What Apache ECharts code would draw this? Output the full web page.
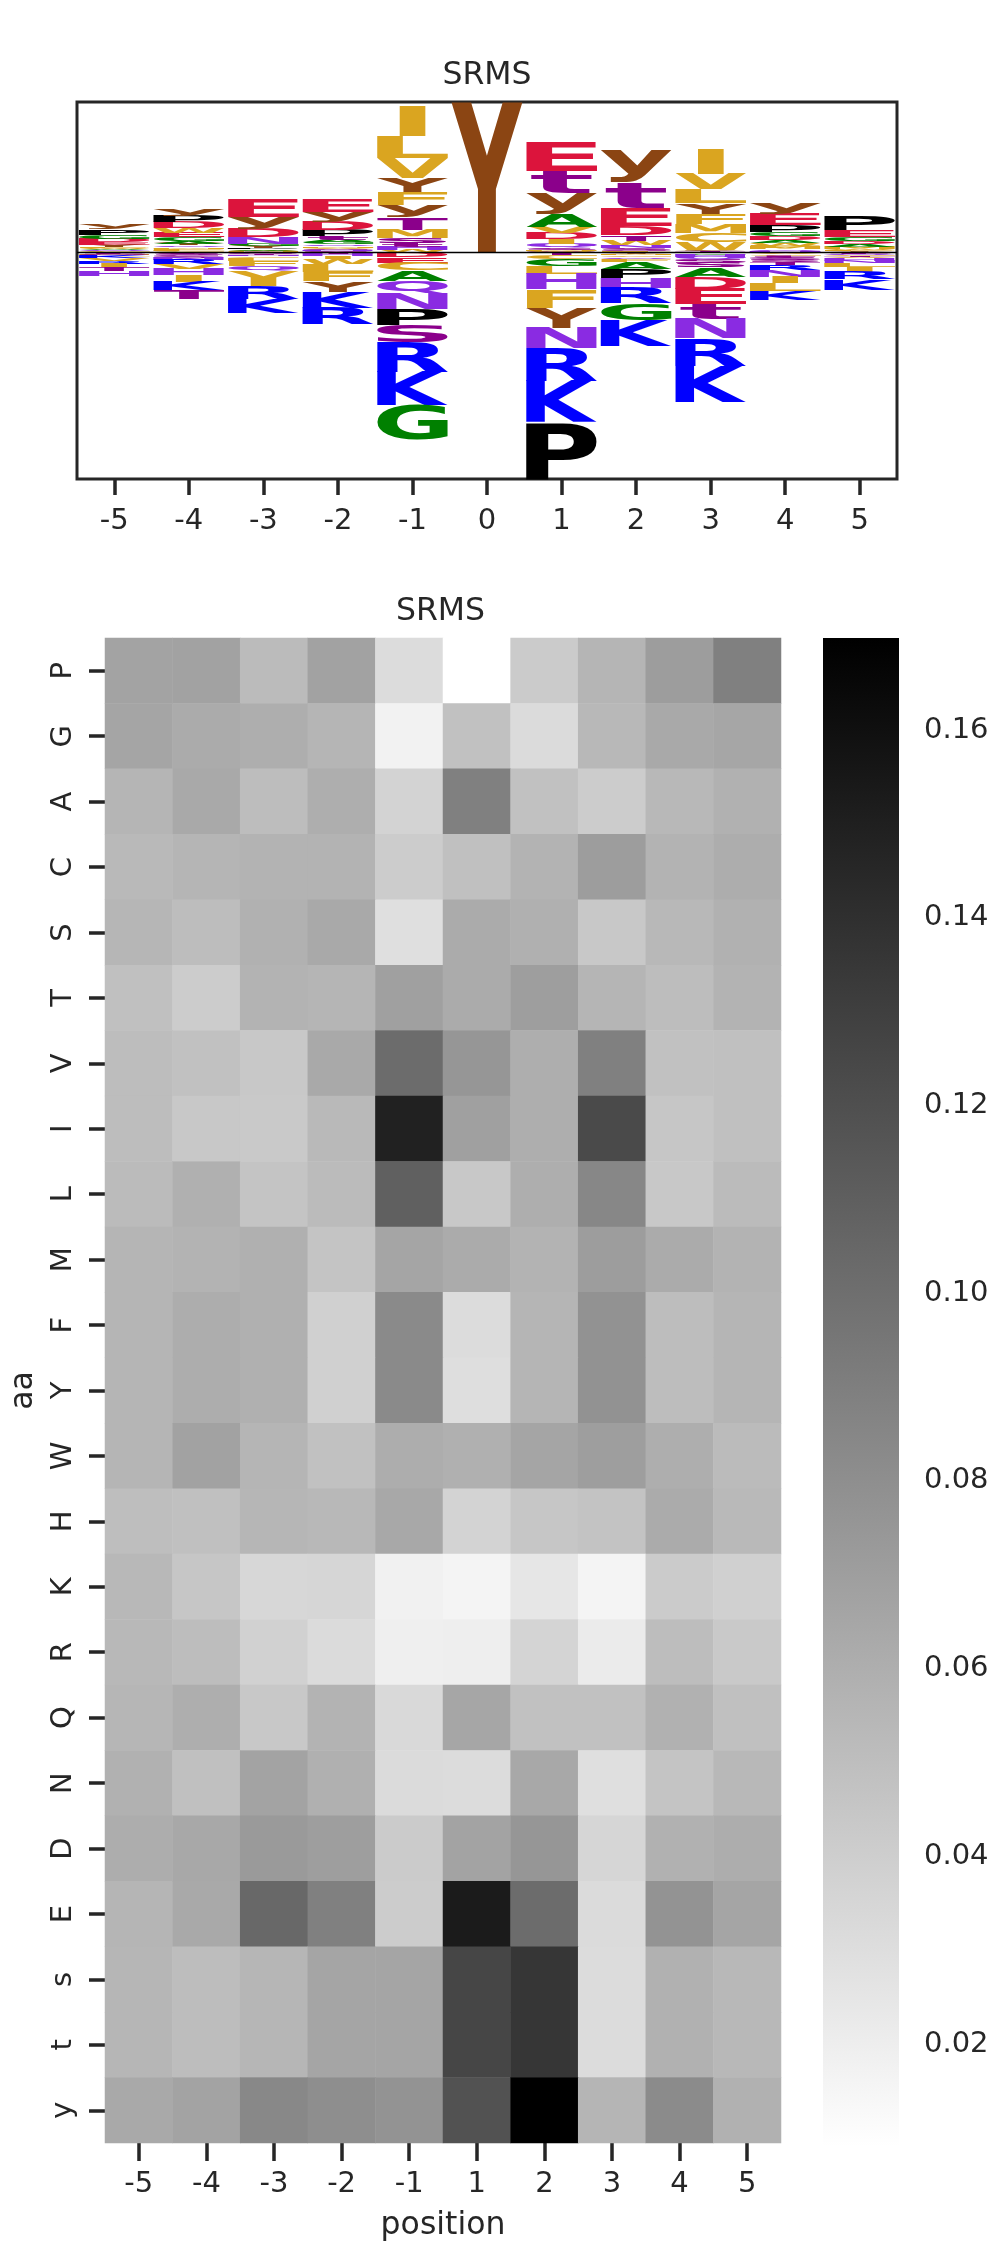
<!DOCTYPE html>
<html>
<head>
<meta charset="utf-8">
<script src="https://cdn.jsdelivr.net/npm/echarts@6/dist/echarts.min.js"></script>
<style>
html, body { margin: 0; padding: 0; background: #fff; }
#main { width: 993px; height: 2247px; }
</style>
</head>
<body>
<div id="main"></div>
<script>
// ---- logo: positions and letter heights (positive = above, negative = below) ----
var logoPositions = ['-5', '-4', '-3', '-2', '-1', '0', '1', '2', '3', '4', '5'];
var logoA = [0.007, 0.014, 0.008, 0.015, -0.067, 0, 0.089, -0.044, -0.060, 0.020, 0.016];
var logoC = [0.005, 0.006, -0.012, -0.006, -0.050, 0, -0.025, -0.012, 0.058, -0.010, -0.006];
var logoD = [0.022, 0.038, 0.056, 0.056, -0.035, 0, 0.038, 0.062, -0.080, 0.025, 0.020];
var logoE = [0.020, 0.029, 0.122, 0.089, -0.037, 0, 0.193, 0.118, -0.100, 0.074, 0.044];
var logoF = [0.010, 0.009, -0.030, -0.060, 0.087, 0, -0.122, -0.018, 0.068, 0.014, 0.008];
var logoG = [0.024, 0.027, 0.014, 0.014, -0.229, 0, -0.047, -0.111, -0.010, 0.029, 0.030];
var logoH = [-0.030, -0.040, -0.008, -0.012, 0.022, 0, -0.102, -0.067, -0.014, 0.008, -0.014];
var logoI = [-0.022, -0.042, -0.058, -0.020, 0.196, 0, 0.033, 0.005, 0.160, -0.045, -0.033];
var logoK = [-0.012, -0.056, -0.096, -0.107, -0.222, 0, -0.276, -0.176, -0.244, -0.062, -0.071];
var logoL = [-0.008, 0.008, -0.020, -0.050, 0.147, 0, -0.053, 0.004, 0.098, -0.052, -0.022];
var logoM = [-0.005, 0.010, 0.005, 0.010, 0.056, 0, 0.008, -0.010, 0.060, 0.012, 0.012];
var logoN = [-0.003, -0.016, 0.044, 0.007, -0.104, 0, -0.135, 0.018, -0.129, -0.044, -0.018];
var logoP = [0.034, 0.039, 0.010, 0.040, -0.107, 0, -0.378, -0.062, -0.006, 0.044, 0.093];
var logoQ = [0.006, 0.012, -0.035, 0.012, -0.084, 0, 0.025, -0.014, -0.018, 0.010, -0.005];
var logoR = [-0.020, -0.030, -0.084, -0.111, -0.196, 0, -0.218, -0.102, -0.182, -0.030, -0.051];
var logoS = [-0.006, -0.014, -0.005, 0.008, -0.118, 0, 0.004, 0.008, -0.025, -0.015, -0.002];
var logoT = [-0.028, -0.058, -0.006, -0.008, 0.080, 0, -0.020, 0.036, 0.005, -0.020, -0.008];
var logoV = [-0.015, -0.032, -0.046, 0.008, 0.133, 0, 0.040, -0.004, 0.100, -0.008, -0.010];
var logoW = [0.008, 0.036, 0.005, -0.035, 0.015, 0, 0.005, 0.030, 0.055, 0.016, 0.010];
var logoY = [0.012, 0.012, 0.012, -0.072, 0.093, 1.000, -0.133, -0.008, 0.070, -0.006, 0.006];
var logo_s = [-0.004, -0.012, -0.004, 0.006, 0.030, 0, 0.012, 0.012, -0.030, -0.018, -0.004];
var logo_t = [-0.004, -0.010, -0.004, 0.027, 0.025, 0, 0.151, 0.171, -0.102, -0.012, -0.004];
var logo_y = [0.036, 0.040, 0.080, 0.067, 0.085, 0, 0.138, 0.218, 0.008, 0.075, -0.003];
var logoMin = -1.511, logoMax = 1.0;

var logoLetters = ['A', 'C', 'D', 'E', 'F', 'G', 'H', 'I', 'K', 'L', 'M', 'N', 'P', 'Q', 'R', 'S', 'T', 'V', 'W', 'Y', 's', 't', 'y'];
var logoValues = [logoA, logoC, logoD, logoE, logoF, logoG, logoH, logoI, logoK, logoL, logoM, logoN,
                  logoP, logoQ, logoR, logoS, logoT, logoV, logoW, logoY, logo_s, logo_t, logo_y];

// ---- heatmap: columns, rows and values per row ----
var heatCols = ['-5', '-4', '-3', '-2', '-1', '1', '2', '3', '4', '5'];
var heatAA = ['P', 'G', 'A', 'C', 'S', 'T', 'V', 'I', 'L', 'M', 'F', 'Y', 'W', 'H', 'K', 'R', 'Q', 'N', 'D', 'E', 's', 't', 'y'];
var heatP = [0.067, 0.068, 0.052, 0.068, 0.031, 0.009, 0.042, 0.056, 0.071, 0.089];
var heatG = [0.066, 0.062, 0.060, 0.056, 0.017, 0.048, 0.032, 0.054, 0.063, 0.065];
var heatA = [0.056, 0.063, 0.051, 0.060, 0.037, 0.089, 0.048, 0.041, 0.054, 0.058];
var heatC = [0.053, 0.056, 0.057, 0.057, 0.041, 0.049, 0.057, 0.071, 0.057, 0.061];
var heatS = [0.055, 0.051, 0.058, 0.063, 0.029, 0.062, 0.059, 0.044, 0.054, 0.058];
var heatT = [0.049, 0.041, 0.057, 0.056, 0.069, 0.062, 0.070, 0.056, 0.051, 0.057];
var heatV = [0.051, 0.048, 0.044, 0.063, 0.102, 0.075, 0.060, 0.089, 0.048, 0.049];
var heatI = [0.051, 0.044, 0.043, 0.053, 0.149, 0.069, 0.060, 0.123, 0.045, 0.049];
var heatL = [0.052, 0.059, 0.046, 0.052, 0.109, 0.044, 0.060, 0.085, 0.044, 0.052];
var heatM = [0.056, 0.057, 0.059, 0.046, 0.066, 0.062, 0.057, 0.071, 0.062, 0.057];
var heatF = [0.056, 0.061, 0.059, 0.039, 0.083, 0.031, 0.056, 0.078, 0.051, 0.056];
var heatY = [0.056, 0.061, 0.059, 0.039, 0.083, 0.030, 0.056, 0.078, 0.051, 0.056];
var heatW = [0.056, 0.068, 0.056, 0.048, 0.061, 0.059, 0.066, 0.070, 0.060, 0.052];
var heatH = [0.050, 0.049, 0.055, 0.054, 0.064, 0.037, 0.045, 0.047, 0.062, 0.053];
var heatK = [0.054, 0.045, 0.034, 0.035, 0.018, 0.016, 0.025, 0.016, 0.042, 0.039];
var heatR = [0.054, 0.051, 0.038, 0.032, 0.019, 0.020, 0.036, 0.022, 0.051, 0.043];
var heatQ = [0.055, 0.060, 0.044, 0.057, 0.033, 0.065, 0.048, 0.048, 0.058, 0.049];
var heatN = [0.058, 0.049, 0.067, 0.059, 0.032, 0.031, 0.064, 0.029, 0.046, 0.054];
var heatD = [0.061, 0.064, 0.073, 0.070, 0.042, 0.067, 0.075, 0.035, 0.058, 0.061];
var heatE = [0.056, 0.063, 0.104, 0.089, 0.041, 0.153, 0.102, 0.032, 0.077, 0.066];
var heat_s = [0.055, 0.051, 0.055, 0.066, 0.066, 0.126, 0.136, 0.031, 0.058, 0.054];
var heat_t = [0.055, 0.051, 0.055, 0.066, 0.066, 0.126, 0.136, 0.031, 0.058, 0.054];
var heat_y = [0.063, 0.067, 0.084, 0.080, 0.077, 0.118, 0.170, 0.056, 0.082, 0.058];
var heatRows = [heatP, heatG, heatA, heatC, heatS, heatT, heatV, heatI, heatL, heatM, heatF, heatY,
                heatW, heatH, heatK, heatR, heatQ, heatN, heatD, heatE, heat_s, heat_t, heat_y];

// colorbar range and ticks
var cbMin = 0.0091, cbMax = 0.1698;
var cbTicks = [0.02, 0.04, 0.06, 0.08, 0.10, 0.12, 0.14, 0.16];

var letterColors = {
    A: '#008000', G: '#008000',
    C: '#DAA520', F: '#DAA520', I: '#DAA520', L: '#DAA520', M: '#DAA520', V: '#DAA520', W: '#DAA520',
    D: '#DC143C', E: '#DC143C',
    K: '#0000FF', R: '#0000FF',
    H: '#8A2BE2', N: '#8A2BE2', Q: '#8A2BE2',
    P: '#000000',
    S: '#8B008B', T: '#8B008B', s: '#8B008B', t: '#8B008B',
    Y: '#8B4513', y: '#8B4513'
};

var TXT = '#262626';
var FONT = 'DejaVu Sans';

// glyph ink boxes, measured once so letters can be stretched into their boxes
var GLYPH_FONT = 'bold 200px "DejaVu Sans"';
var mctx = document.createElement('canvas').getContext('2d');
mctx.font = GLYPH_FONT;
mctx.textBaseline = 'middle';
mctx.textAlign = 'left';
var metrics = {};
logoLetters.forEach(function (ch) {
    var m = mctx.measureText(ch);
    metrics[ch] = {
        left: m.actualBoundingBoxLeft,
        w: m.actualBoundingBoxLeft + m.actualBoundingBoxRight,
        asc: m.actualBoundingBoxAscent,
        h: m.actualBoundingBoxAscent + m.actualBoundingBoxDescent
    };
});

// stack letters: smallest next to the baseline, biggest outside
var glyphData = [];
logoPositions.forEach(function (p, i) {
    var up = [], down = [];
    logoLetters.forEach(function (ch, k) {
        var v = logoValues[k][i];
        if (v > 0) up.push([k, v]);
        else if (v < 0) down.push([k, -v]);
    });
    up.sort(function (a, b) { return a[1] - b[1]; });
    down.sort(function (a, b) { return a[1] - b[1]; });
    var y = 0;
    up.forEach(function (g) { glyphData.push([i, y, y + g[1], g[0]]); y += g[1]; });
    y = 0;
    down.forEach(function (g) { glyphData.push([i, y - g[1], y, g[0]]); y -= g[1]; });
});

function renderGlyph(params, api) {
    var ch = logoLetters[api.value(3)];
    var bw = api.size([1, 0])[0] * 0.95;
    var tl = api.coord([api.value(0), api.value(2)]);
    var bl = api.coord([api.value(0), api.value(1)]);
    var bh = bl[1] - tl[1];
    if (bh < 0.05) return;
    var m = metrics[ch];
    // no letter gets stretched wider than 'E' would be
    var sx = bw / Math.max(m.w, metrics.E.w);
    var sy = bh / m.h;
    var x0 = tl[0] - bw / 2 + (bw - m.w * sx) / 2;
    return {
        type: 'text',
        x: x0 + m.left * sx,
        y: tl[1] + m.asc * sy,
        scaleX: sx,
        scaleY: sy,
        silent: true,
        style: {
            text: ch, font: GLYPH_FONT, fill: letterColors[ch],
            align: 'left', verticalAlign: 'middle',
            textAlign: 'left', textVerticalAlign: 'middle'
        }
    };
}

var heatData = [];
heatRows.forEach(function (row, r) {
    row.forEach(function (v, c) { heatData.push([c, r, v]); });
});

var myChart = echarts.init(document.getElementById('main'), null, { renderer: 'canvas' });
var option = {
    backgroundColor: '#ffffff',
    animation: false,
    graphic: [
        { type: 'text', x: 487, y: 76, style: { text: 'SRMS', font: '31.5px "DejaVu Sans"', fill: TXT, textAlign: 'center', textVerticalAlign: 'middle', align: 'center', verticalAlign: 'middle' } },
        { type: 'text', x: 440.5, y: 611.5, style: { text: 'SRMS', font: '31.5px "DejaVu Sans"', fill: TXT, textAlign: 'center', textVerticalAlign: 'middle', align: 'center', verticalAlign: 'middle' } }
    ],
    grid: [
        { left: 77, top: 102, width: 820, height: 377, show: true, borderColor: TXT, borderWidth: 3, backgroundColor: 'transparent' },
        { left: 100, top: 638, width: 681, height: 1508.5 },
        { left: 823, top: 638, width: 76, height: 1508.5 }
    ],
    xAxis: [
        {
            type: 'category', gridIndex: 0, data: logoPositions, boundaryGap: true, position: 'bottom',
            axisLine: { show: false, onZero: false },
            axisTick: { show: true, alignWithLabel: true, length: 16, lineStyle: { color: TXT, width: 3.5 } },
            axisLabel: { margin: 28, fontSize: 29, color: TXT, fontFamily: FONT },
            splitLine: { show: false }
        },
        {
            type: 'category', gridIndex: 1, data: heatCols,
            axisLine: { show: false },
            axisTick: { show: true, alignWithLabel: true, length: 18, lineStyle: { color: TXT, width: 3.5 } },
            axisLabel: { margin: 27, fontSize: 29, color: TXT, fontFamily: FONT },
            splitLine: { show: false },
            name: 'position', nameLocation: 'middle', nameGap: 67,
            nameTextStyle: { fontSize: 31.5, color: TXT, fontFamily: FONT }
        },
        { type: 'value', gridIndex: 2, min: 0, max: 1, show: false }
    ],
    yAxis: [
        {
            type: 'value', gridIndex: 0, min: logoMin, max: logoMax,
            axisLine: { show: false, onZero: false }, axisTick: { show: false }, axisLabel: { show: false }, splitLine: { show: false }
        },
        {
            type: 'category', gridIndex: 1, data: heatAA, inverse: true,
            axisLine: { show: false },
            axisTick: { show: true, alignWithLabel: true, length: 16, lineStyle: { color: TXT, width: 3.5 } },
            axisLabel: { rotate: 90, margin: 27, fontSize: 29, color: TXT, fontFamily: FONT },
            splitLine: { show: false },
            name: 'aa', nameLocation: 'middle', nameGap: 65, nameRotate: 90,
            nameTextStyle: { fontSize: 31.5, color: TXT, fontFamily: FONT }
        },
        {
            type: 'value', gridIndex: 2, position: 'right', min: cbMin, max: cbMax,
            axisLine: { show: false },
            axisTick: { show: true, customValues: cbTicks, length: 17, lineStyle: { color: TXT, width: 3.5 } },
            axisLabel: {
                customValues: cbTicks, margin: 25, fontSize: 29, color: TXT, fontFamily: FONT,
                formatter: function (v) { return v.toFixed(2); }
            },
            splitLine: { show: false }
        }
    ],
    visualMap: {
        show: false, type: 'continuous', seriesIndex: 1,
        min: cbMin, max: cbMax,
        inRange: { color: ['#ffffff', '#000000'] }
    },
    series: [
        {
            type: 'custom', xAxisIndex: 0, yAxisIndex: 0,
            data: glyphData,
            encode: { x: 0, y: [1, 2] },
            renderItem: renderGlyph,
            silent: true,
            markLine: {
                silent: true, symbol: 'none', animation: false,
                label: { show: false },
                lineStyle: { color: '#000000', width: 1.3, type: 'solid' },
                data: [{ yAxis: 0 }]
            }
        },
        {
            type: 'heatmap', xAxisIndex: 1, yAxisIndex: 1,
            data: heatData,
            itemStyle: { borderWidth: 0 },
            emphasis: { disabled: true }
        },
        {
            type: 'custom', xAxisIndex: 2, yAxisIndex: 2,
            data: [[0, cbMin, 1, cbMax]],
            encode: { x: [0, 2], y: [1, 3] },
            silent: true,
            renderItem: function (params, api) {
                var p0 = api.coord([api.value(0), api.value(3)]);
                var p1 = api.coord([api.value(2), api.value(1)]);
                return {
                    type: 'rect',
                    shape: { x: p0[0], y: p0[1], width: p1[0] - p0[0], height: p1[1] - p0[1] },
                    style: {
                        fill: new echarts.graphic.LinearGradient(0, 0, 0, 1, [
                            { offset: 0, color: '#000000' }, { offset: 1, color: '#ffffff' }
                        ])
                    }
                };
            }
        }
    ]
};
myChart.setOption(option);
</script>
</body>
</html>
